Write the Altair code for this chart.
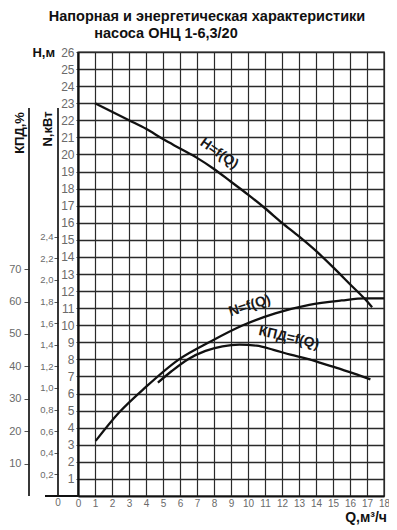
import altair as alt
import pandas as pd

# ---- data ----
q_h = [1.0, 2, 3, 4, 5, 6, 7, 8, 9, 10, 11, 12, 13, 14, 15, 16, 17, 17.3]
h_vals = [23.0, 22.5, 22.0, 21.5, 20.9, 20.35, 19.8, 19.15, 18.4, 17.65, 16.85, 16.0, 15.2, 14.35, 13.4, 12.4, 11.4, 11.05]

q_n = [1.04, 2.4, 4.0, 5.9, 7.8, 9.7, 11.6, 13.6, 15.5, 16.9, 18.0]
n_vals = [0.51, 0.77, 1.01, 1.26, 1.43, 1.58, 1.69, 1.77, 1.81, 1.83, 1.83]

q_k = [4.7, 5.5, 6.5, 7.5, 8.5, 9.5, 10.5, 11.5, 12.5, 13.5, 14.5, 15.5, 16.5, 17.2]
k_vals = [35.0, 38.5, 42.3, 44.8, 46.2, 46.7, 46.4, 45.1, 43.6, 42.3, 40.7, 39.1, 37.3, 36.0]

q_ticks = list(range(0, 19))
h_ticks = list(range(1, 27))
n_ticks = [0.2, 0.4, 0.6, 0.8, 1.0, 1.2, 1.4, 1.6, 1.8, 2.0, 2.2, 2.4]
k_ticks = [10, 20, 30, 40, 50, 60, 70]

title_lines = ["Напорная и энергетическая характеристики", "насоса ОНЦ 1-6,3/20"]
curve_labels = ["H=f(Q)", "N=f(Q)", "КПД=f(Q)"]

W, H = 306, 444
LBL = "#6a6a6a"
FONT = "Liberation Sans"

h_df = pd.DataFrame({"Q": q_h, "H": h_vals})
n_df = pd.DataFrame({"Q": q_n, "N": n_vals})
k_df = pd.DataFrame({"Q": q_k, "K": k_vals})

xs = alt.Scale(domain=[0, 18], nice=False)
hs = alt.Scale(domain=[0, 26], nice=False)
ns = alt.Scale(domain=[0, 4.11], nice=False)
ks = alt.Scale(domain=[0, 137], nice=False)

x_axis = alt.Axis(values=q_ticks, grid=True, gridColor="#2a2a2a", gridWidth=1.2,
                  domainColor="#111", domainWidth=2.2, tickSize=0, labelPadding=2,
                  labelFontSize=10, labelColor=LBL, labelFont=FONT, title=None,
                  labelFlush=False, labelOverlap=False)

def X():
    return alt.X("Q:Q", scale=xs, axis=x_axis)

h_line = alt.Chart(h_df).mark_line(color="#111", strokeWidth=2.3, interpolate="monotone").encode(
    x=X(),
    y=alt.Y("H:Q", scale=hs, axis=alt.Axis(values=h_ticks, grid=True, gridColor="#2a2a2a",
                                           gridWidth=1.5, domainColor="#111", domainWidth=2.2,
                                           tickSize=2, tickColor="#333", labelPadding=2,
                                           labelFontSize=12, labelColor=LBL, labelFont=FONT,
                                           title=None, labelOverlap=False)),
)

n_line = alt.Chart(n_df).mark_line(color="#111", strokeWidth=2.3, interpolate="monotone").encode(
    x=X(),
    y=alt.Y("N:Q", scale=ns, axis=alt.Axis(orient="left", offset=20, values=n_ticks, grid=False,
                                           domain=False, tickSize=4, tickColor="#555",
                                           labelPadding=1, labelFontSize=9.5, labelColor=LBL,
                                           labelFont=FONT, title=None, labelOverlap=False,
                                           labelExpr="replace(format(datum.value, '.1f'), '.', ',')")),
)

k_line = alt.Chart(k_df).mark_line(color="#111", strokeWidth=2.3, interpolate="monotone").encode(
    x=X(),
    y=alt.Y("K:Q", scale=ks, axis=alt.Axis(orient="left", offset=49, values=k_ticks, grid=False,
                                           domain=False, tickSize=5, tickColor="#555",
                                           labelPadding=3, labelFontSize=11, labelOverlap=False,
                                           labelColor=LBL, labelFont=FONT, title=None)),
)

# curve labels
hl_df = pd.DataFrame({"Q": [8.3], "H": [20.05], "t": [curve_labels[0]]})
nl_df = pd.DataFrame({"Q": [10.1], "N": [1.76], "t": [curve_labels[1]]})
kl_df = pd.DataFrame({"Q": [12.4], "K": [48.8], "t": [curve_labels[2]]})
lbl_style = dict(font=FONT, fontSize=14, fontWeight="bold", color="#1a1a1a",
                 align="center", baseline="middle")
h_lbl = alt.Chart(hl_df).mark_text(angle=35, **lbl_style).encode(
    x=X(), y=alt.Y("H:Q", scale=hs, axis=None), text="t:N")
n_lbl = alt.Chart(nl_df).mark_text(angle=342, **lbl_style).encode(
    x=X(), y=alt.Y("N:Q", scale=ns, axis=None), text="t:N")
k_lbl = alt.Chart(kl_df).mark_text(angle=13, **lbl_style).encode(
    x=X(), y=alt.Y("K:Q", scale=ks, axis=None), text="t:N")

one = pd.DataFrame({"a": [0]})

# secondary axis lines and bottom-line extension
n_dom = alt.Chart(one).mark_rule(color="#222", strokeWidth=1.8).encode(
    x=alt.value(-20), y=alt.value(56), y2=alt.value(H))
k_dom = alt.Chart(one).mark_rule(color="#222", strokeWidth=1.8).encode(
    x=alt.value(-49), y=alt.value(56), y2=alt.value(H))
base_ext = alt.Chart(one).mark_rule(color="#111", strokeWidth=2.2).encode(
    x=alt.value(-33), x2=alt.value(0), y=alt.value(H))

def txt(s, x, y, **kw):
    return alt.Chart(pd.DataFrame({"t": [s]})).mark_text(font=FONT, **kw).encode(
        x=alt.value(x), y=alt.value(y), text="t:N")

title1 = txt(title_lines[0], 129, -31, fontSize=14.5, fontWeight="bold", color="#111",
             align="center", baseline="alphabetic")
title2 = txt(title_lines[1], 88, -14.5, fontSize=14.5, fontWeight="bold", color="#111",
             align="center", baseline="alphabetic")
h_title = txt("Н,м", -23, 4.5, fontSize=13, fontWeight="bold", color="#111",
              align="right", baseline="alphabetic")
q_title = txt("Q,м³/ч", W + 3, 470, fontSize=14, fontWeight="bold", color="#111",
              align="right", baseline="alphabetic")
n_title = txt("N,кВт", -30, 77, fontSize=13, fontWeight="bold", color="#111",
              align="center", baseline="middle", angle=270)
k_title = txt("КПД,%", -58, 81, fontSize=13, fontWeight="bold", color="#111",
              align="center", baseline="middle", angle=270)
zero_n = txt("0", -20, 451, fontSize=10, color=LBL, align="center", baseline="middle")

chart = alt.layer(
    h_line, n_line, k_line, h_lbl, n_lbl, k_lbl,
    n_dom, k_dom, base_ext,
    title1, title2, h_title, q_title, n_title, k_title, zero_n,
).resolve_scale(y="independent").properties(
    width=W, height=H,
    padding={"left": 70, "top": 44, "right": 5, "bottom": 33},
    autosize=alt.AutoSizeParams(type="none"),
    background="white",
).configure_view(stroke="#222", strokeWidth=1.4)

chart.save("out.html", embed_options={"renderer": "svg", "actions": False})
